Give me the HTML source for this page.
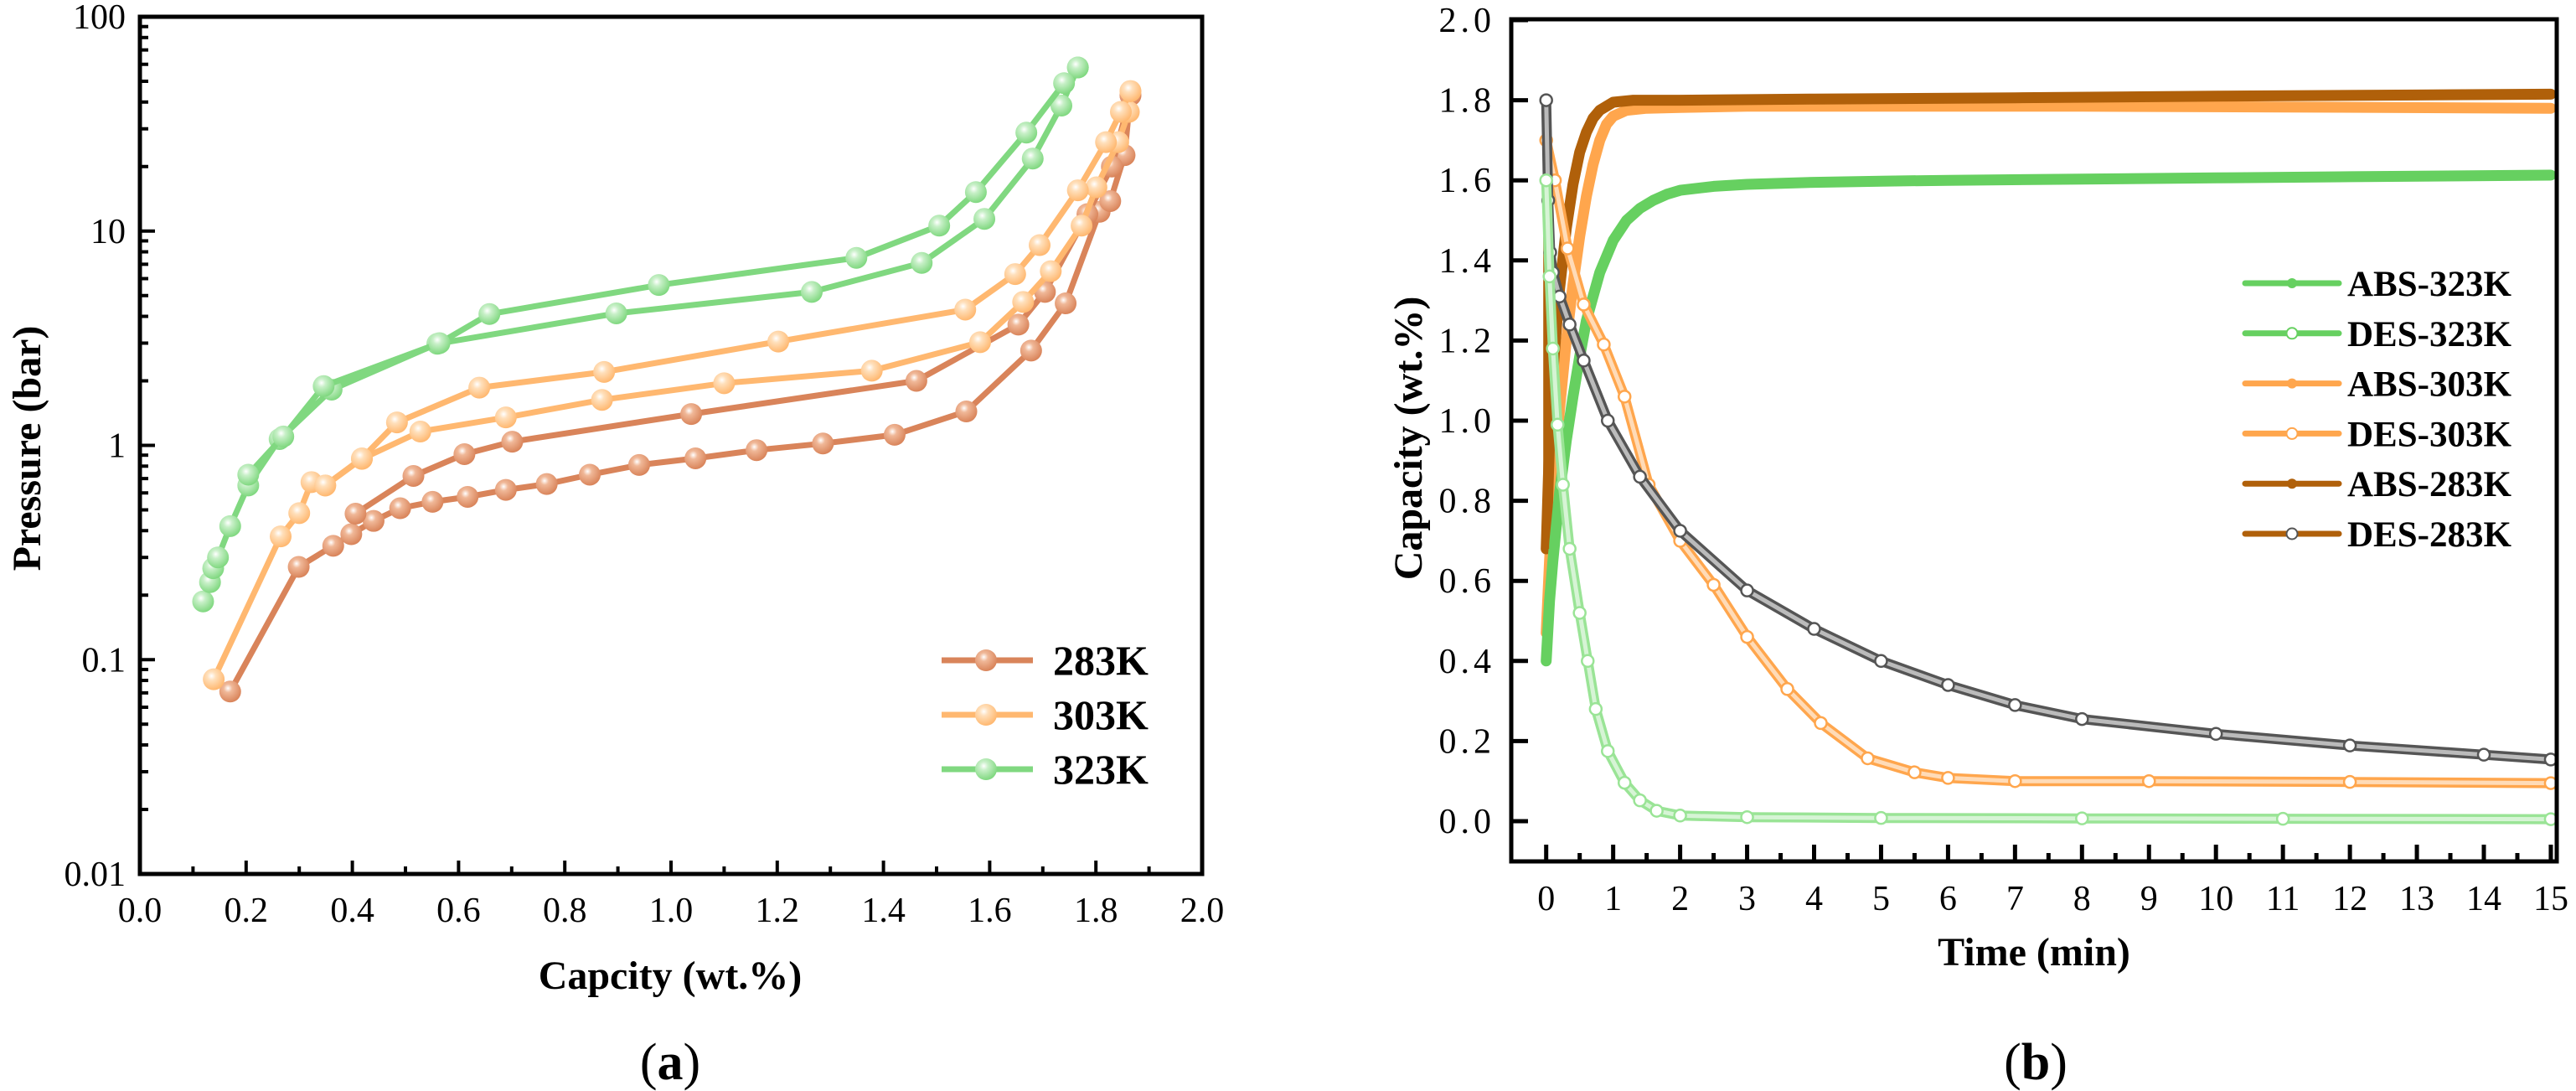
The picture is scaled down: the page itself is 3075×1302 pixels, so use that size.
<!DOCTYPE html>
<html><head><meta charset="utf-8"><style>
html,body{margin:0;padding:0;background:#fff;}
svg{display:block;font-family:"Liberation Serif",serif;}
</style></head><body>
<svg id="fig" width="3075" height="1302" viewBox="0 0 3075 1302" xmlns="http://www.w3.org/2000/svg">
<defs>
<radialGradient id="gBrown" cx="0.4" cy="0.35" r="0.65"><stop offset="0" stop-color="#fff"/><stop offset="0.3" stop-color="#f0b898"/><stop offset="1" stop-color="#d9845a"/></radialGradient>
<radialGradient id="gOrange" cx="0.4" cy="0.35" r="0.65"><stop offset="0" stop-color="#fff"/><stop offset="0.3" stop-color="#ffe0bc"/><stop offset="1" stop-color="#ffb870"/></radialGradient>
<radialGradient id="gGreen" cx="0.4" cy="0.35" r="0.65"><stop offset="0" stop-color="#fff"/><stop offset="0.3" stop-color="#c8f0c8"/><stop offset="1" stop-color="#80d880"/></radialGradient>
</defs>
<g id="chartA"></g>
<g id="chartB"></g>
</svg>
<script>
// ---------- Chart (a) data ----------
const a283AdsX=[0.17,0.299,0.364,0.398,0.44,0.49,0.551,0.617,0.689,0.766,0.847,0.94,1.046,1.161,1.286,1.421,1.556,1.678,1.743,1.807,1.827,1.854,1.865];
const a283AdsP=[0.071,0.271,0.34,0.385,0.444,0.509,0.545,0.575,0.62,0.66,0.73,0.81,0.87,0.95,1.02,1.12,1.44,2.77,4.6,12.3,13.8,22.6,43];
const a283DesX=[1.865,1.83,1.784,1.704,1.654,1.462,1.038,0.701,0.611,0.515,0.406];
const a283DesP=[43,20,12,5.2,3.66,2.0,1.40,1.04,0.91,0.72,0.48];
const a303AdsX=[0.139,0.265,0.3,0.323,0.349,0.418,0.528,0.689,0.87,1.1,1.378,1.582,1.663,1.715,1.773,1.801,1.842,1.862,1.865];
const a303AdsP=[0.081,0.376,0.483,0.674,0.65,0.865,1.16,1.35,1.63,1.95,2.23,3.03,4.67,6.5,10.6,16,26,36,45];
const a303DesX=[1.865,1.847,1.819,1.766,1.694,1.648,1.554,1.202,0.874,0.639,0.484,0.418,0.349];
const a303DesP=[45,36,26,15.5,8.6,6.3,4.3,3.05,2.2,1.86,1.28,0.87,0.65];
const a323AdsX=[0.119,0.132,0.138,0.147,0.17,0.204,0.263,0.361,0.56,0.897,1.265,1.472,1.59,1.681,1.735,1.766];
const a323AdsP=[0.187,0.23,0.267,0.30,0.42,0.65,1.07,1.82,2.98,4.13,5.2,7.1,11.4,21.8,38.5,58];
const a323DesX=[1.766,1.74,1.669,1.574,1.505,1.349,0.977,0.658,0.564,0.346,0.27,0.204];
const a323DesP=[58,49,28.8,15.2,10.6,7.5,5.6,4.1,3.0,1.89,1.1,0.73];
const aXTicks=["0.0","0.2","0.4","0.6","0.8","1.0","1.2","1.4","1.6","1.8","2.0"];
const aYTicks=["0.01","0.1","1","10","100"];
const aLegend=["283K","303K","323K"];

// ---------- Chart (b) data ----------
const abs323T=[0,0.05,0.1,0.2,0.3,0.4,0.5,0.6,0.7,0.8,0.9,1.0,1.2,1.4,1.6,1.8,2,2.5,3,4,5,6,8,10,12,15];
const abs323V=[0.40,0.55,0.65,0.82,0.95,1.06,1.16,1.25,1.31,1.37,1.41,1.45,1.50,1.53,1.55,1.565,1.575,1.585,1.59,1.595,1.598,1.60,1.603,1.606,1.609,1.613];
const des323T=[0,0.05,0.1,0.17,0.25,0.35,0.5,0.62,0.74,0.92,1.17,1.4,1.65,2,3,5,8,11,15];
const des323V=[1.60,1.36,1.18,0.99,0.84,0.68,0.52,0.40,0.28,0.175,0.096,0.052,0.026,0.014,0.01,0.008,0.007,0.006,0.005];
const abs303T=[0,0.05,0.1,0.2,0.3,0.4,0.5,0.6,0.7,0.8,0.9,1.0,1.2,1.5,2,3,5,8,11,15];
const abs303V=[0.47,0.65,0.80,1.03,1.20,1.34,1.46,1.56,1.64,1.70,1.74,1.76,1.775,1.78,1.782,1.785,1.785,1.785,1.783,1.78];
const des303T=[0,0.13,0.32,0.56,0.86,1.17,1.53,2,2.5,3,3.6,4.1,4.8,5.5,6,7,9,12,15];
const des303V=[1.70,1.60,1.43,1.29,1.19,1.06,0.84,0.70,0.59,0.46,0.33,0.245,0.157,0.122,0.108,0.10,0.10,0.098,0.095];
const abs283T=[0,0.05,0.1,0.2,0.3,0.4,0.5,0.6,0.7,0.8,1.0,1.3,2,4,7,10,13,15];
const abs283V=[0.68,0.95,1.12,1.33,1.48,1.59,1.67,1.72,1.755,1.775,1.795,1.80,1.80,1.803,1.806,1.81,1.813,1.815];
const des283T=[0,0.03,0.06,0.1,0.2,0.35,0.56,0.92,1.4,2,3,4,5,6,7,8,10,12,14,15];
const des283V=[1.80,1.55,1.42,1.37,1.31,1.24,1.15,1.0,0.86,0.725,0.576,0.48,0.40,0.34,0.29,0.255,0.218,0.189,0.166,0.154];
const bXTicks=["0","1","2","3","4","5","6","7","8","9","10","11","12","13","14","15"];
const bYTicks=["0.0","0.2","0.4","0.6","0.8","1.0","1.2","1.4","1.6","1.8","2.0"];
const bLegend=["ABS-323K","DES-323K","ABS-303K","DES-303K","ABS-283K","DES-283K"];

const NS="http://www.w3.org/2000/svg";
function mk(parent,tag,attrs,text){const e=document.createElementNS(NS,tag);for(const k in attrs)e.setAttribute(k,attrs[k]);if(text!==undefined)e.textContent=text;parent.appendChild(e);return e;}

// ===== Chart A =====
const A=document.getElementById('chartA');
const aL=167,aR=1435,aT=20,aB=1043;
function xA(v){return aL+v/2.0*(aR-aL);}
function yA(p){return aT+(2-Math.log10(p))/4*(aB-aT);}
const colA={"283K":"#d9845a","303K":"#ffb870","323K":"#80d880"};
const gradA={"283K":"url(#gBrown)","303K":"url(#gOrange)","323K":"url(#gGreen)"};
function seriesA(name,xs,ps,key){
  const g=mk(A,'g',{});
  
  
  const d=xs.map((x,i)=>(i?'L':'M')+xA(x).toFixed(1)+' '+yA(ps[i]).toFixed(1)).join(' ');
  const p=mk(g,'path',{d:d,fill:'none',stroke:colA[key],'stroke-width':7,'stroke-linejoin':'round'});
  
  
  xs.forEach((x,i)=>{
    const c=mk(g,'circle',{cx:xA(x),cy:yA(ps[i]),r:13,fill:gradA[key]});
    
    
  });
}
seriesA('series-283k-adsorption',a283AdsX,a283AdsP,"283K");
seriesA('series-283k-desorption',a283DesX,a283DesP,"283K");
seriesA('series-303k-adsorption',a303AdsX,a303AdsP,"303K");
seriesA('series-303k-desorption',a303DesX,a303DesP,"303K");
seriesA('series-323k-adsorption',a323AdsX,a323AdsP,"323K");
seriesA('series-323k-desorption',a323DesX,a323DesP,"323K");
const fa=mk(A,'rect',{x:aL,y:aT,width:aR-aL,height:aB-aT,fill:'none',stroke:'#000','stroke-width':5});


for(let i=0;i<=20;i++){
  const v=i*0.1;const x=xA(v);const len=(i%2===0)?16:9;
  const t=mk(A,'line',{x1:x,y1:aB,x2:x,y2:aB-len,stroke:'#000','stroke-width':4});
  
  
}
aXTicks.forEach((s,i)=>{
  const t=mk(A,'text',{x:xA(i*0.2),y:1100,'font-size':42,'text-anchor':'middle'},s);
  
  
});
for(let k=-2;k<=2;k++){
  const y=yA(Math.pow(10,k));
  const t=mk(A,'line',{x1:aL,y1:y,x2:aL+18,y2:y,stroke:'#000','stroke-width':4});
  
  
  if(k<2){for(let m=2;m<=9;m++){
    const ym=yA(m*Math.pow(10,k));
    const tm=mk(A,'line',{x1:aL,y1:ym,x2:aL+10,y2:ym,stroke:'#000','stroke-width':4});
    
    
  }}
}
aYTicks.forEach((s,i)=>{
  const t=mk(A,'text',{x:150,y:yA(Math.pow(10,i-2))+14,'font-size':42,'text-anchor':'end'},s);
  
  
});
const xtA=mk(A,'text',{x:800,y:1180,'font-size':48,'font-weight':'bold','text-anchor':'middle'},'Capcity (wt.%)');


const ytA=mk(A,'text',{x:0,y:0,'font-size':48,'font-weight':'bold','text-anchor':'middle',transform:'translate(48,535) rotate(-90)'},'Pressure (bar)');


const capA=mk(A,'text',{x:800,y:1288,'font-size':62,'text-anchor':'middle'});


capA.innerHTML='(<tspan font-weight="bold">a</tspan>)';
aLegend.forEach((s,i)=>{
  const y=788+i*65;
  const g=mk(A,'g',{});
  
  
  mk(g,'line',{x1:1124,y1:y,x2:1233,y2:y,stroke:colA[s],'stroke-width':7});
  mk(g,'circle',{cx:1177,cy:y,r:13,fill:gradA[s]});
  mk(g,'text',{x:1257,y:y+17,'font-size':50,'font-weight':'bold'},s);
});

// ===== Chart B =====
const B=document.getElementById('chartB');
const bL=1804,bR=3052,bT=23,bB=1028;
function xB(t){return 1845.7+t*79.95;}
function yB(v){return 980-v*478;}
const cGreen="#66d060",cOrange="#ffa64d",cBrown="#b0600a";
function pathB(ts,vs){return ts.map((t,i)=>(i?'L':'M')+xB(t).toFixed(1)+' '+yB(vs[i]).toFixed(1)).join(' ');}
function absSeries(name,ts,vs,col){
  const g=mk(B,'g',{});
  
  
  const p=mk(g,'path',{d:pathB(ts,vs),fill:'none',stroke:col,'stroke-width':13,'stroke-linejoin':'round','stroke-linecap':'round'});
  
  
  ts.forEach((t,i)=>{
    const c=mk(g,'circle',{cx:xB(t),cy:yB(vs[i]),r:6,fill:col});
    
    
  });
}
function desSeries(name,ts,vs,col,lineCol,dropTo){
  const g=mk(B,'g',{});
  
  
  if(lineCol){
    const l=mk(g,'path',{d:'M'+xB(ts[0])+' '+yB(vs[0])+' L'+xB(ts[0])+' '+yB(dropTo),fill:'none',stroke:lineCol,'stroke-width':7});
    
    
  }
  const p=mk(g,'path',{d:pathB(ts,vs),fill:'none',stroke:col,'stroke-width':12,'stroke-linejoin':'round','stroke-linecap':'round'});
  
  
  const p2=mk(g,'path',{d:pathB(ts,vs),fill:'none',stroke:'#fff','stroke-width':5,'stroke-opacity':0.6,'stroke-linejoin':'round'});
  
  
  ts.forEach((t,i)=>{
    const c=mk(g,'circle',{cx:xB(t),cy:yB(vs[i]),r:7,fill:'#fff',stroke:col,'stroke-width':2.5});
    
    
  });
}
absSeries('series-abs-303k',abs303T,abs303V,cOrange);
absSeries('series-abs-283k',abs283T,abs283V,cBrown);
absSeries('series-abs-323k',abs323T,abs323V,cGreen);
desSeries('series-des-303k',des303T,des303V,cOrange,null,0);
desSeries('series-des-283k',des283T,des283V,'#555',cBrown,abs283V[0]);
desSeries('series-des-323k',des323T,des323V,'#9ae496',null,0);
const fb=mk(B,'rect',{x:bL,y:bT,width:bR-bL,height:bB-bT,fill:'none',stroke:'#000','stroke-width':5});


for(let i=0;i<=30;i++){
  const t=i*0.5;const x=xB(t);const len=(i%2===0)?20:10;
  const tk=mk(B,'line',{x1:x,y1:bB,x2:x,y2:bB-len,stroke:'#000','stroke-width':5});
  
  
}
bXTicks.forEach((s,i)=>{
  const t=mk(B,'text',{x:xB(i),y:1086,'font-size':42,'text-anchor':'middle'},s);
  
  
});
bYTicks.forEach((s,i)=>{
  const v=i*0.2;const y=yB(v);
  const tk=mk(B,'line',{x1:bL,y1:y,x2:bL+20,y2:y,stroke:'#000','stroke-width':5});
  
  
  const t=mk(B,'text',{x:1785,y:y+14,'font-size':42,'text-anchor':'end','letter-spacing':'5'},s);
  
  
});
const xtB=mk(B,'text',{x:2428,y:1152,'font-size':48,'font-weight':'bold','text-anchor':'middle'},'Time (min)');


const ytB=mk(B,'text',{x:0,y:0,'font-size':48,'font-weight':'bold','text-anchor':'middle',transform:'translate(1697,523) rotate(-90)'},'Capacity (wt.%)');


const capB=mk(B,'text',{x:2430,y:1288,'font-size':62,'text-anchor':'middle'});


capB.innerHTML='(<tspan font-weight="bold">b</tspan>)';
const legCols=[cGreen,cGreen,cOrange,cOrange,cBrown,cBrown];
bLegend.forEach((s,i)=>{
  const y=338+i*59.8;
  const g=mk(B,'g',{});
  
  
  mk(g,'line',{x1:2680,y1:y,x2:2792,y2:y,stroke:legCols[i],'stroke-width':7,'stroke-linecap':'round'});
  if(s.startsWith('ABS')) mk(g,'circle',{cx:2736,cy:y,r:6,fill:legCols[i]});
  else mk(g,'circle',{cx:2736,cy:y,r:6.5,fill:'#fff',stroke:(i===5?'#555':legCols[i]),'stroke-width':2});
  mk(g,'text',{x:2802,y:y+15,'font-size':43,'font-weight':'bold'},s);
});
</script>
</body></html>
